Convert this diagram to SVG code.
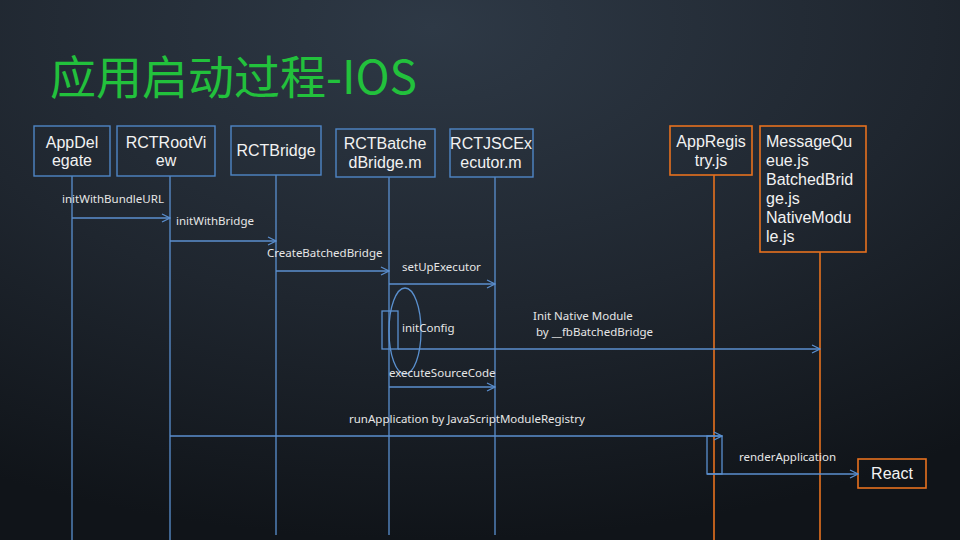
<svg xmlns="http://www.w3.org/2000/svg" width="960" height="540" viewBox="0 0 960 540">
<defs>
<radialGradient id="bg" cx="45%" cy="5%" r="95%" fx="45%" fy="5%">
<stop offset="0" stop-color="#2e3946"/>
<stop offset="0.55" stop-color="#1f262f"/>
<stop offset="1" stop-color="#101419"/>
</radialGradient>
<marker id="arr" markerWidth="10" markerHeight="10" refX="9" refY="5" orient="auto" markerUnits="userSpaceOnUse">
<path d="M1,1 L9,5 L1,9" fill="none" stroke="#5b8fcf" stroke-width="1.2"/>
</marker>
<style>
.bx{fill:none;stroke:#4f86c6;stroke-width:1.4}
.ob{fill:none;stroke:#e6711f;stroke-width:1.6}
.ll{stroke:#5a90cf;stroke-width:1.3;fill:none}
.ol{stroke:#e6711f;stroke-width:1.6;fill:none}
.msg{stroke:#5b8fcf;stroke-width:1.3;fill:none;marker-end:url(#arr)}
.nt{font-family:"Liberation Sans",Arial,sans-serif;font-size:16px;fill:#f2f2f2;text-anchor:middle}
.lt{font-family:"Liberation Sans",Arial,sans-serif;font-size:16px;fill:#f2f2f2}
.ml{font-family:"Noto Sans","Open Sans",sans-serif;font-size:11.5px;fill:#e6e6e6}
</style>
</defs>
<rect width="960" height="540" fill="url(#bg)"/>
<text x="50" y="94" font-family="'Noto Sans CJK SC','Noto Sans',sans-serif" font-size="46" fill="#22c13c">应用启动过程-IOS</text>

<g id="lifelines">
<line class="ll" x1="72" y1="176" x2="72" y2="540"/>
<line class="ll" x1="170" y1="176" x2="170" y2="540"/>
<line class="ll" x1="276" y1="175" x2="276" y2="535"/>
<line class="ll" x1="389" y1="177" x2="389" y2="535"/>
<line class="ll" x1="495" y1="177" x2="495" y2="535"/>
<line class="ol" x1="714" y1="175" x2="714" y2="540"/>
<line class="ol" x1="820" y1="252" x2="820" y2="540"/>
</g>

<g id="AppDelegate"><rect class="bx" x="34" y="126" width="76" height="50"/><text class="nt" x="72" y="148">AppDel</text><text class="nt" x="72" y="166">egate</text></g>
<g id="RCTRootView"><rect class="bx" x="117" y="126" width="98" height="50"/><text class="nt" x="166" y="148">RCTRootVi</text><text class="nt" x="166" y="166">ew</text></g>
<g id="RCTBridge"><rect class="bx" x="231" y="126" width="90" height="49"/><text class="nt" x="276" y="156">RCTBridge</text></g>
<g id="RCTBatchedBridge"><rect class="bx" x="336" y="129" width="99" height="48"/><text class="nt" x="385" y="149">RCTBatche</text><text class="nt" x="385" y="168">dBridge.m</text></g>
<g id="RCTJSCExecutor"><rect class="bx" x="450" y="129" width="83" height="48"/><text class="nt" x="491" y="149" font-size="15">RCTJSCEx</text><text class="nt" x="491" y="168" font-size="15">ecutor.m</text></g>
<g id="AppRegistry"><rect class="ob" x="670" y="126" width="82" height="49"/><text class="nt" x="711" y="147">AppRegis</text><text class="nt" x="711" y="166">try.js</text></g>
<g id="MessageQueue"><rect class="ob" x="760" y="126" width="106" height="126"/>
<text class="lt" x="766" y="147">MessageQu</text><text class="lt" x="766" y="166">eue.js</text><text class="lt" x="766" y="185">BatchedBrid</text><text class="lt" x="766" y="204">ge.js</text><text class="lt" x="766" y="223">NativeModu</text><text class="lt" x="766" y="242">le.js</text></g>
<g id="React"><rect class="ob" x="858" y="459" width="68" height="29"/><text class="nt" x="892" y="479" font-size="17">React</text></g>

<g id="connectors">
<line class="msg" x1="72" y1="218" x2="170" y2="218"/>
<text class="ml" x="62" y="203">initWithBundleURL</text>
<line class="msg" x1="170" y1="241" x2="276" y2="241"/>
<text class="ml" x="176" y="225">initWithBridge</text>
<line class="msg" x1="276" y1="271" x2="389" y2="271"/>
<text class="ml" x="267" y="257">CreateBatchedBridge</text>
<line class="msg" x1="389" y1="284" x2="495" y2="284"/>
<text class="ml" x="402" y="271">setUpExecutor</text>
<ellipse class="ll" cx="405" cy="331" rx="16" ry="43"/>
<rect class="ll" x="382" y="311" width="16" height="38"/>
<text class="ml" x="402" y="332">initConfig</text>
<line class="msg" x1="398" y1="349" x2="820" y2="349"/>
<text class="ml" x="533" y="320">Init Native Module</text>
<text class="ml" x="536" y="336"> by __fbBatchedBridge</text>
<line class="msg" x1="389" y1="387" x2="495" y2="387"/>
<text class="ml" x="389" y="377">executeSourceCode</text>
<line class="msg" x1="170" y1="436" x2="722" y2="436"/>
<text class="ml" x="349" y="423">runApplication by JavaScriptModuleRegistry</text>
<rect class="ll" x="707" y="436" width="15" height="38"/>
<line class="msg" x1="707" y1="474" x2="858" y2="474"/>
<text class="ml" x="739" y="461">renderApplication</text>
</g>
</svg>
